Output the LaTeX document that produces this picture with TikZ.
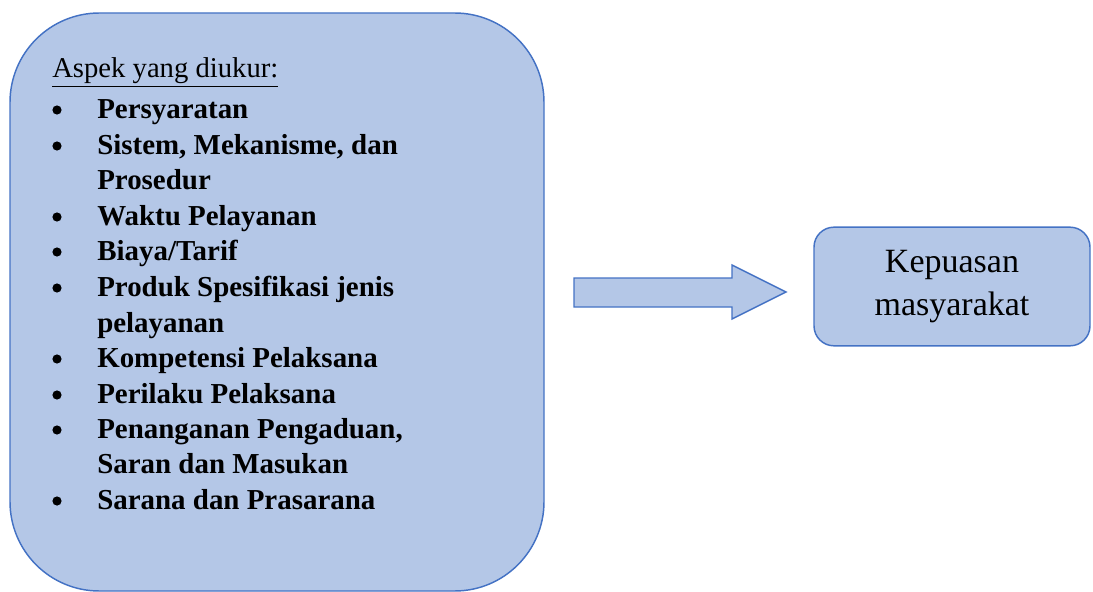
\documentclass[tikz,border=0pt]{standalone}
\usepackage{fontspec}
\setmainfont{Liberation Serif}
\usetikzlibrary{positioning}
\definecolor{boxfill}{HTML}{B4C7E7}
\definecolor{boxline}{HTML}{4472C4}
\tikzset{
panel/.style={
  draw=boxline,
  fill=boxfill,
  line width=1.1pt
  },
item/.style={
  anchor=base west,
  inner sep=0pt,
  font=\fontsize{21.7}{26}\selectfont\bfseries
  },
head/.style={
  anchor=base west,
  inner sep=0pt,
  font=\fontsize{21.5}{26}\selectfont
  }
}

\begin{document}
\begin{tikzpicture}[x=0.75pt,y=-0.75pt]
  \useasboundingbox (0,0) rectangle (1093,592);
  \node[panel,rounded corners=67pt,minimum width=400.5pt,minimum height=433.5pt] (aspekbox) at (277,302) {};
  \node[head] (aspek) at (52,78) {\underline{Aspek yang diukur:}};
  \node[item] (i1) at (97,118) {Persyaratan};
  \node[item] (i2) at (97,154) {Sistem, Mekanisme, dan};
  \node[item] (i2b) at (97,189) {Prosedur};
  \node[item] (i3) at (97,225) {Waktu Pelayanan};
  \node[item] (i4) at (97,260) {Biaya/Tarif};
  \node[item] (i5) at (97,296) {Produk Spesifikasi jenis};
  \node[item] (i5b) at (97,332) {pelayanan};
  \node[item] (i6) at (97,367) {Kompetensi Pelaksana};
  \node[item] (i7) at (97,403) {Perilaku Pelaksana};
  \node[item] (i8) at (97,438) {Penanganan Pengaduan,};
  \node[item] (i8b) at (97,473) {Saran dan Masukan};
  \node[item] (i9) at (97,509) {Sarana dan Prasarana};
  \foreach \y in {118,154,225,260,296,367,403,438,509}
    \fill (57,\y-8) circle (4.6);
  % block arrow
  \draw[panel,line join=miter] (574,278) -- (732,278) -- (732,265) -- (786,292)
    -- (732,319) -- (732,307) -- (574,307) -- cycle;
  \node[panel,rounded corners=15pt,minimum width=207pt,minimum height=89pt,
    align=center,font=\fontsize{25.5}{32.25}\selectfont] (kepuasan) at (952,286.5)
    {Kepuasan\\masyarakat};
\end{tikzpicture}
\end{document}
